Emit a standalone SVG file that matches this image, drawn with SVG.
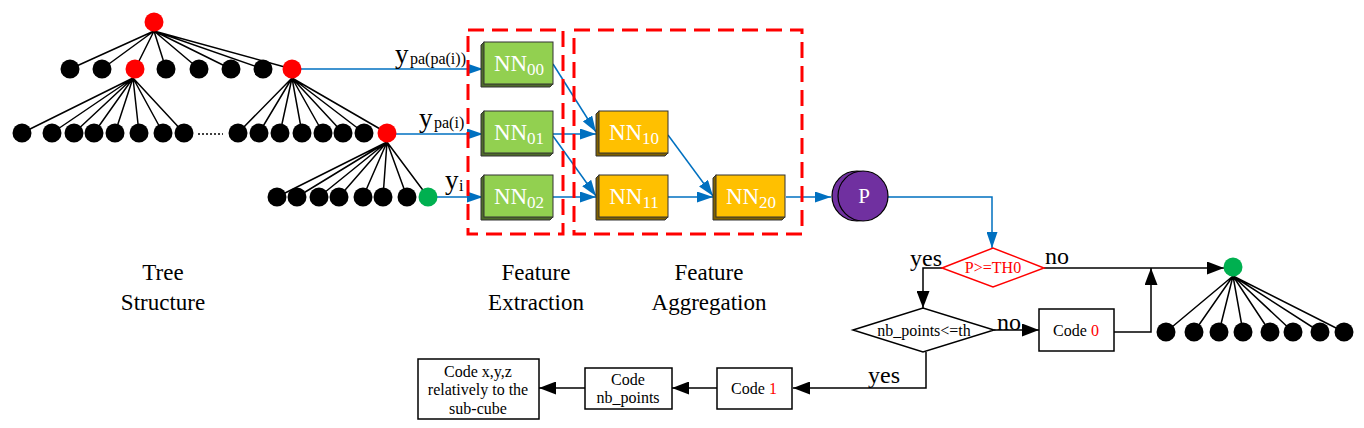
<svg xmlns="http://www.w3.org/2000/svg" width="1364" height="428" viewBox="0 0 1364 428">
<style>
.e{stroke:#000;stroke-width:1.5;fill:none}
.b{stroke:#0070c0;stroke-width:1.5;fill:none}
.k{stroke:#000;stroke-width:1.5;fill:none}
.blk{fill:#000}
.red{fill:#ff0000}
.grn{fill:#00b050}
text{font-family:'Liberation Serif','DejaVu Serif',serif}
.t{fill:#000}
.w{fill:#fff}
.box{fill:#fff;stroke:#000;stroke-width:1.5}
.dash{fill:none;stroke:#ff0000;stroke-width:3;stroke-dasharray:16 8}
.gf{fill:#92d050;stroke:#333;stroke-width:1}
.gs{fill:#4e6b2a;stroke:#333;stroke-width:1}
.of{fill:#ffc000;stroke:#333;stroke-width:1}
.os{fill:#7f6000;stroke:#333;stroke-width:1}
</style>
<defs>
<marker id="ab" markerUnits="userSpaceOnUse" markerWidth="16" markerHeight="11" refX="16" refY="5.5" orient="auto"><path d="M0,0 L16,5.5 L0,11 z" fill="#0070c0"/></marker>
<marker id="ak" markerUnits="userSpaceOnUse" markerWidth="17" markerHeight="13" refX="17" refY="6.5" orient="auto"><path d="M0,0 L17,6.5 L0,13 z" fill="#000"/></marker>
</defs>

<g id="connectors">
<g class="e">
<path d="M154,31 L70,69 M154,31 L102,69 M154,31 L135,69 M154,31 L166,69 M154,31 L199,69 M154,31 L231,69 M154,31 L263,69 M154,31 L292,69"/>
<path d="M133,78 L22,133 M133,78 L52,133 M133,78 L74,133 M133,78 L94,133 M133,78 L115,133 M133,78 L139,133 M133,78 L163,133 M133,78 L184,133"/>
<path d="M292,78 L238,133 M292,78 L259,133 M292,78 L280,133 M292,78 L302,133 M292,78 L323,133 M292,78 L343,133 M292,78 L364,133 M292,78 L387,133"/>
<path d="M387,142 L277,197 M387,142 L297,197 M387,142 L319,197 M387,142 L339,197 M387,142 L363,197 M387,142 L383,197 M387,142 L407,197 M387,142 L428,197"/>
<path d="M1233,276 L1166,332 M1233,276 L1194,332 M1233,276 L1219,332 M1233,276 L1243,332 M1233,276 L1270,332 M1233,276 L1293,332 M1233,276 L1320,332 M1233,276 L1344,332"/>
</g>
<path d="M198,134 L223,134" stroke="#000" stroke-width="1.5" stroke-dasharray="2 2"/>
<path class="b" d="M301,69 L483,69" marker-end="url(#ab)"/>
<path class="b" d="M396,134 L483,134" marker-end="url(#ab)"/>
<path class="b" d="M437,197 L483,197" marker-end="url(#ab)"/>
<path class="b" d="M553,64 L596,132" marker-end="url(#ab)"/>
<path class="b" d="M553,134 L596,134" marker-end="url(#ab)"/>
<path class="b" d="M553,136 L596,196" marker-end="url(#ab)"/>
<path class="b" d="M553,197 L596,197" marker-end="url(#ab)"/>
<path class="b" d="M668,135 L713,196" marker-end="url(#ab)"/>
<path class="b" d="M668,197 L713,197" marker-end="url(#ab)"/>
<path class="b" d="M786,197 L831,197" marker-end="url(#ab)"/>
<path class="b" d="M888,197 L992,197 L992,248" marker-end="url(#ab)"/>
<path class="k" d="M942,268 L923,268 L923,308" marker-end="url(#ak)"/>
<path class="k" d="M1044,268 L1224,268" marker-end="url(#ak)"/>
<path class="k" d="M994,330 L1039,330" marker-end="url(#ak)"/>
<path class="k" d="M1114,332 L1151,332 L1151,268" marker-end="url(#ak)"/>
<path class="k" d="M926,352 L926,388 L793,388" marker-end="url(#ak)"/>
<path class="k" d="M717,388 L672,388" marker-end="url(#ak)"/>
<path class="k" d="M585,388 L539,388" marker-end="url(#ak)"/>
</g>

<g id="tree-root"><circle cx="154" cy="22" r="9.5" class="red"/></g>
<g id="tree-l1">
<g id="n1-0"><circle cx="70" cy="69" r="9.5" class="blk"/></g>
<g id="n1-1"><circle cx="102" cy="69" r="9.5" class="blk"/></g>
<g id="n1-2"><circle cx="135" cy="69" r="9.5" class="red"/></g>
<g id="n1-3"><circle cx="166" cy="69" r="9.5" class="blk"/></g>
<g id="n1-4"><circle cx="199" cy="69" r="9.5" class="blk"/></g>
<g id="n1-5"><circle cx="231" cy="69" r="9.5" class="blk"/></g>
<g id="n1-6"><circle cx="263" cy="69" r="9.5" class="blk"/></g>
<g id="n1-7"><circle cx="292" cy="69" r="9.5" class="red"/></g>
</g>
<g id="tree-l2">
<g id="n2-0"><circle cx="22" cy="133" r="9.5" class="blk"/></g>
<g id="n2-1"><circle cx="52" cy="133" r="9.5" class="blk"/></g>
<g id="n2-2"><circle cx="74" cy="133" r="9.5" class="blk"/></g>
<g id="n2-3"><circle cx="94" cy="133" r="9.5" class="blk"/></g>
<g id="n2-4"><circle cx="115" cy="133" r="9.5" class="blk"/></g>
<g id="n2-5"><circle cx="139" cy="133" r="9.5" class="blk"/></g>
<g id="n2-6"><circle cx="163" cy="133" r="9.5" class="blk"/></g>
<g id="n2-7"><circle cx="184" cy="133" r="9.5" class="blk"/></g>
<g id="n2-8"><circle cx="238" cy="133" r="9.5" class="blk"/></g>
<g id="n2-9"><circle cx="259" cy="133" r="9.5" class="blk"/></g>
<g id="n2-10"><circle cx="280" cy="133" r="9.5" class="blk"/></g>
<g id="n2-11"><circle cx="302" cy="133" r="9.5" class="blk"/></g>
<g id="n2-12"><circle cx="323" cy="133" r="9.5" class="blk"/></g>
<g id="n2-13"><circle cx="343" cy="133" r="9.5" class="blk"/></g>
<g id="n2-14"><circle cx="364" cy="133" r="9.5" class="blk"/></g>
<g id="n2-15"><circle cx="387" cy="133" r="9.5" class="red"/></g>
</g>
<g id="tree-l3">
<g id="n3-0"><circle cx="277" cy="197" r="9.5" class="blk"/></g>
<g id="n3-1"><circle cx="297" cy="197" r="9.5" class="blk"/></g>
<g id="n3-2"><circle cx="319" cy="197" r="9.5" class="blk"/></g>
<g id="n3-3"><circle cx="339" cy="197" r="9.5" class="blk"/></g>
<g id="n3-4"><circle cx="363" cy="197" r="9.5" class="blk"/></g>
<g id="n3-5"><circle cx="383" cy="197" r="9.5" class="blk"/></g>
<g id="n3-6"><circle cx="407" cy="197" r="9.5" class="blk"/></g>
<g id="n3-7"><circle cx="428" cy="197" r="9.5" class="grn"/></g>
</g>

<g id="label-y2"><text class="t" x="395" y="63" font-size="27">y</text><text class="t" x="410" y="64" font-size="16">pa(pa(i))</text></g>
<g id="label-y1"><text class="t" x="419" y="127" font-size="27">y</text><text class="t" x="434" y="128" font-size="16">pa(i)</text></g>
<g id="label-y0"><text class="t" x="445" y="189" font-size="27">y</text><text class="t" x="459" y="191" font-size="16">i</text></g>

<g id="NN00" transform="translate(481,42)"><polygon class="gs" points="3,0 0,3 0,45 69,45 72,42"/><rect class="gf" x="3" y="0" width="69" height="42"/><text class="w" x="38" y="29" font-size="23" text-anchor="middle">NN<tspan font-size="17" dy="4">00</tspan></text></g>
<g id="NN01" transform="translate(481,111)"><polygon class="gs" points="3,0 0,3 0,45 69,45 72,42"/><rect class="gf" x="3" y="0" width="69" height="42"/><text class="w" x="38" y="29" font-size="23" text-anchor="middle">NN<tspan font-size="17" dy="4">01</tspan></text></g>
<g id="NN02" transform="translate(481,175)"><polygon class="gs" points="3,0 0,3 0,45 69,45 72,42"/><rect class="gf" x="3" y="0" width="69" height="42"/><text class="w" x="38" y="29" font-size="23" text-anchor="middle">NN<tspan font-size="17" dy="4">02</tspan></text></g>
<g id="NN10" transform="translate(596,111)"><polygon class="os" points="3,0 0,3 0,45 69,45 72,42"/><rect class="of" x="3" y="0" width="69" height="42"/><text class="w" x="38" y="29" font-size="23" text-anchor="middle">NN<tspan font-size="17" dy="4">10</tspan></text></g>
<g id="NN11" transform="translate(596,175)"><polygon class="os" points="3,0 0,3 0,45 69,45 72,42"/><rect class="of" x="3" y="0" width="69" height="42"/><text class="w" x="38" y="29" font-size="23" text-anchor="middle">NN<tspan font-size="17" dy="4">11</tspan></text></g>
<g id="NN20" transform="translate(713,175)"><polygon class="os" points="3,0 0,3 0,45 69,45 72,42"/><rect class="of" x="3" y="0" width="69" height="42"/><text class="w" x="38" y="29" font-size="23" text-anchor="middle">NN<tspan font-size="17" dy="4">20</tspan></text></g>

<g id="group-extraction"><rect class="dash" x="468" y="30" width="95" height="204"/></g>
<g id="group-aggregation"><rect class="dash" x="574" y="30" width="228" height="204"/></g>

<g id="P">
<circle cx="857" cy="196" r="25" fill="#7030a0" stroke="#000" stroke-width="1.2"/>
<circle cx="863" cy="196" r="25" fill="#7030a0" stroke="#000" stroke-width="1.2"/>
<text class="w" x="864" y="203" font-size="21" text-anchor="middle">P</text>
</g>

<g id="dec-th0">
<polygon points="942,268 993,248 1044,268 993,287" fill="#fff" stroke="#ff0000" stroke-width="1.5"/>
<text x="993" y="273" font-size="16" text-anchor="middle" style="fill:#ff0000">P&gt;=TH0</text>
</g>
<g id="dec-nb">
<polygon points="853,330 923,308 994,330 923,352" fill="#fff" stroke="#000" stroke-width="1.5"/>
<text class="t" x="924" y="336" font-size="16" text-anchor="middle">nb_points&lt;=th</text>
</g>

<text class="t" x="910" y="266" font-size="24">yes</text>
<text class="t" x="1045" y="264" font-size="24">no</text>
<text class="t" x="997" y="330" font-size="24">no</text>
<text class="t" x="868" y="383" font-size="24">yes</text>

<g id="code0"><rect class="box" x="1039" y="309" width="75" height="42"/><text class="t" x="1076" y="336" font-size="16" text-anchor="middle">Code <tspan style="fill:#ff0000">0</tspan></text></g>
<g id="code1"><rect class="box" x="717" y="368" width="75" height="41"/><text class="t" x="754" y="394" font-size="16" text-anchor="middle">Code <tspan style="fill:#ff0000">1</tspan></text></g>
<g id="code-nb"><rect class="box" x="585" y="368" width="87" height="41"/><text class="t" x="628" y="385" font-size="16" text-anchor="middle">Code</text><text class="t" x="628" y="403" font-size="16" text-anchor="middle">nb_points</text></g>
<g id="code-xyz"><rect class="box" x="418" y="359" width="121" height="60"/><text class="t" x="478" y="377" font-size="16" text-anchor="middle">Code x,y,z</text><text class="t" x="478" y="395" font-size="16" text-anchor="middle">relatively to the</text><text class="t" x="478" y="414" font-size="16" text-anchor="middle">sub-cube</text></g>

<g id="rt-root"><circle cx="1233" cy="267" r="9.5" class="grn"/></g>
<g id="rt-children">
<g id="r-0"><circle cx="1166" cy="332" r="9.5" class="blk"/></g>
<g id="r-1"><circle cx="1194" cy="332" r="9.5" class="blk"/></g>
<g id="r-2"><circle cx="1219" cy="332" r="9.5" class="blk"/></g>
<g id="r-3"><circle cx="1243" cy="332" r="9.5" class="blk"/></g>
<g id="r-4"><circle cx="1270" cy="332" r="9.5" class="blk"/></g>
<g id="r-5"><circle cx="1293" cy="332" r="9.5" class="blk"/></g>
<g id="r-6"><circle cx="1320" cy="332" r="9.5" class="blk"/></g>
<g id="r-7"><circle cx="1344" cy="332" r="9.5" class="blk"/></g>
</g>

<g id="title-tree"><text class="t" x="163" y="280" font-size="23" text-anchor="middle">Tree</text><text class="t" x="163" y="310" font-size="23" text-anchor="middle">Structure</text></g>
<g id="title-fe"><text class="t" x="536" y="280" font-size="23" text-anchor="middle">Feature</text><text class="t" x="536" y="310" font-size="23" text-anchor="middle">Extraction</text></g>
<g id="title-fa"><text class="t" x="709" y="280" font-size="23" text-anchor="middle">Feature</text><text class="t" x="709" y="310" font-size="23" text-anchor="middle">Aggregation</text></g>
</svg>
